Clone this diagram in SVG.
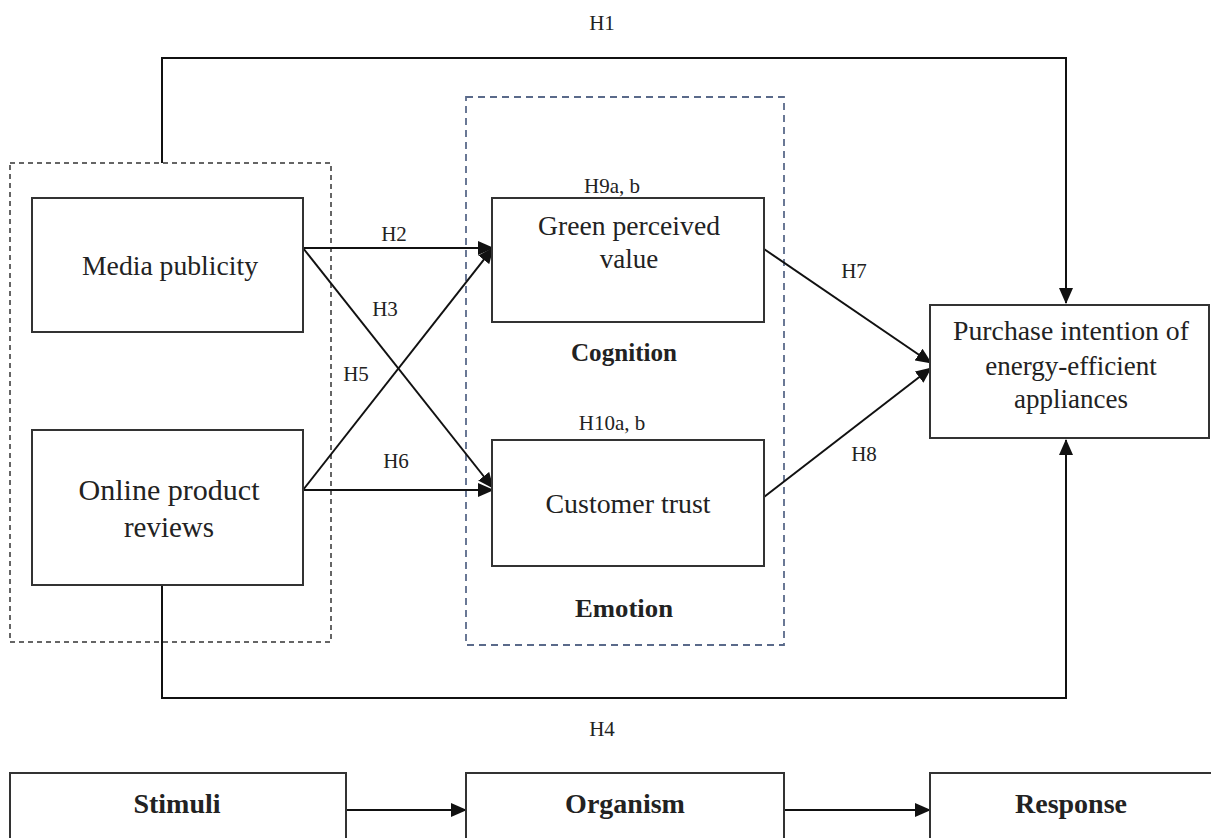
<svg xmlns="http://www.w3.org/2000/svg" width="1211" height="838" viewBox="0 0 1211 838">
<defs>
<marker id="ahb" markerWidth="16" markerHeight="14" refX="15" refY="7" orient="auto" markerUnits="userSpaceOnUse" viewBox="0 0 16 14">
<path d="M0,0 L16,7 L0,14 z" fill="#111"/>
</marker>
</defs>
<style>
.box{fill:#fff;stroke:#333;stroke-width:2}
.dash{fill:none;stroke:#333;stroke-width:1.5;stroke-dasharray:5,4}
.bdash{fill:none;stroke:#5a6a8a;stroke-width:1.8;stroke-dasharray:7,5}
.ln{fill:none;stroke:#111;stroke-width:2}
.t{font-family:"Liberation Serif","Times New Roman",serif;fill:#222;text-anchor:middle}
.lbl{font-size:21px}
.nd{font-size:27px}
.b{font-weight:bold;font-size:26px}
.bb{font-weight:bold;font-size:28px}
</style>
<rect width="1211" height="838" fill="#fff"/>
<g id="stimuli-group"><rect class="dash" x="10" y="163" width="321" height="479"/></g>
<g id="organism-group"><rect class="bdash" x="466" y="97" width="318" height="548"/></g>
<g id="connectors">
<polyline class="ln" points="162,163 162,58 1066,58 1066,303" marker-end="url(#ahb)"/>
<polyline class="ln" points="162,585 162,698 1066,698 1066,440" marker-end="url(#ahb)"/>
<line class="ln" x1="303" y1="248" x2="493" y2="248" marker-end="url(#ahb)"/>
<line class="ln" x1="303" y1="248" x2="493" y2="488" marker-end="url(#ahb)"/>
<line class="ln" x1="303" y1="490" x2="493" y2="248" marker-end="url(#ahb)"/>
<line class="ln" x1="303" y1="490" x2="493" y2="490" marker-end="url(#ahb)"/>
<line class="ln" x1="764" y1="249" x2="931" y2="363" marker-end="url(#ahb)"/>
<line class="ln" x1="764" y1="497" x2="931" y2="368" marker-end="url(#ahb)"/>
<line class="ln" x1="346" y1="810" x2="466" y2="810" marker-end="url(#ahb)"/>
<line class="ln" x1="784" y1="810" x2="930" y2="810" marker-end="url(#ahb)"/>
<text class="t lbl" x="602" y="30">H1</text>
<text class="t lbl" x="602" y="736">H4</text>
<text class="t lbl" x="394" y="241">H2</text>
<text class="t lbl" x="385" y="316">H3</text>
<text class="t lbl" x="356" y="381">H5</text>
<text class="t lbl" x="396" y="468">H6</text>
<text class="t lbl" x="854" y="278">H7</text>
<text class="t lbl" x="864" y="461">H8</text>
</g>
<g id="media-publicity"><rect class="box" x="32" y="198" width="271" height="134"/><text class="t nd" x="170" y="275" textLength="176" lengthAdjust="spacingAndGlyphs">Media publicity</text></g>
<g id="online-reviews"><rect class="box" x="32" y="430" width="271" height="155"/><text class="t" font-size="29" x="169" y="500" textLength="181" lengthAdjust="spacingAndGlyphs">Online product</text><text class="t" font-size="29" x="169" y="537">reviews</text></g>
<g id="green-value"><text class="t lbl" x="612" y="193">H9a, b</text><rect class="box" x="492" y="198" width="272" height="124"/><text class="t nd" x="629" y="235" textLength="182" lengthAdjust="spacingAndGlyphs">Green perceived</text><text class="t nd" x="629" y="268">value</text></g>
<g id="cognition"><text class="t b" x="624" y="361" textLength="106" lengthAdjust="spacingAndGlyphs">Cognition</text></g>
<g id="customer-trust"><text class="t lbl" x="612" y="430">H10a, b</text><rect class="box" x="492" y="440" width="272" height="126"/><text class="t nd" x="628" y="513" textLength="165" lengthAdjust="spacingAndGlyphs">Customer trust</text></g>
<g id="emotion"><text class="t b" x="624" y="617" textLength="98" lengthAdjust="spacingAndGlyphs">Emotion</text></g>
<g id="purchase"><rect class="box" x="930" y="305" width="279" height="133"/><text class="t nd" x="1071" y="340" textLength="236" lengthAdjust="spacingAndGlyphs">Purchase intention of</text><text class="t nd" x="1071" y="375">energy-efficient</text><text class="t nd" x="1071" y="408">appliances</text></g>
<g id="stimuli"><rect class="box" x="10" y="773" width="336" height="80"/><text class="t bb" x="177" y="813">Stimuli</text></g>
<g id="organism"><rect class="box" x="466" y="773" width="318" height="80"/><text class="t bb" x="625" y="813">Organism</text></g>
<g id="response"><rect class="box" x="930" y="773" width="290" height="80"/><text class="t bb" x="1071" y="813">Response</text></g>
</svg>
